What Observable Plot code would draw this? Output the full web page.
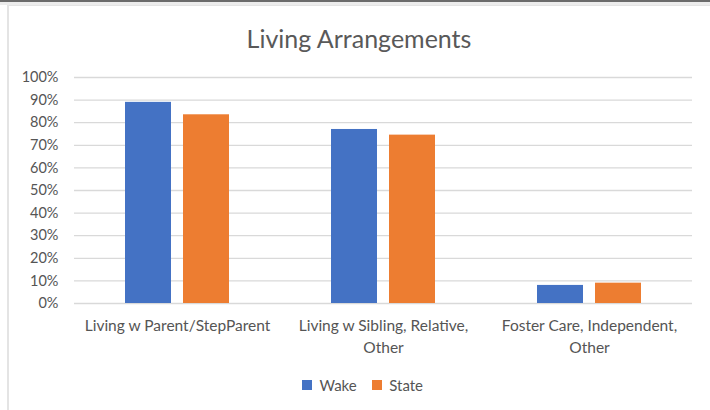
<!DOCTYPE html>
<html>
<head>
<meta charset="utf-8">
<script src="https://cdn.jsdelivr.net/npm/d3@7"></script>
<script src="https://cdn.jsdelivr.net/npm/@observablehq/plot@0.6"></script>
<style>
  html, body { margin: 0; padding: 0; background: #fff; }
  body { width: 710px; height: 410px; position: relative; overflow: hidden; font-family: Lato, "Open Sans", sans-serif; }
  #topbar { position: absolute; left: 0; top: 0; width: 710px; height: 2px; background: #6b6b6b; }
  #topbar2 { position: absolute; left: 0; top: 2px; width: 710px; height: 3px; background: #ececec; }
  #frame { position: absolute; left: 7px; top: 5px; width: 703px; height: 405px; border-left: 2px solid #e4e4e4; border-top: 1px solid #e4e4e4; box-sizing: border-box; }
  #title { position: absolute; left: 0; top: 23px; width: 718px; text-align: center; font-size: 25px; color: #595959; font-family: Lato, sans-serif; }
  #chart { position: absolute; left: 0; top: 60px; }
  #legend { position: absolute; left: 0; top: 368px; width: 710px; padding-left: 30px; box-sizing: border-box; display: flex; justify-content: center; }
</style>
</head>
<body>
<div id="topbar"></div>
<div id="topbar2"></div>
<div id="frame"></div>
<div id="title">Living Arrangements</div>
<div id="chart"></div>
<div id="legend"></div>
<script>
const categories = ["Living w Parent/StepParent", "Living w Sibling, Relative, Other", "Foster Care, Independent, Other"];
const tickLabels = ["Living w Parent/StepParent", "Living w Sibling, Relative,\nOther", "Foster Care, Independent,\nOther"];
const series = ["Wake", "State"];
const wakeValues = [89, 77, 8];
const stateValues = [83.5, 74.5, 9];
const yTicks = [0, 10, 20, 30, 40, 50, 60, 70, 80, 90, 100];
const colors = ["#4472C4", "#ED7D31"];

const data = [];
categories.forEach((c, i) => {
  data.push({category: c, series: "Wake", value: wakeValues[i]});
  data.push({category: c, series: "State", value: stateValues[i]});
});

const chart = Plot.plot({
  width: 710,
  height: 300,
  marginTop: 17,
  marginBottom: 57,
  marginLeft: 74,
  marginRight: 18,
  style: {fontFamily: "Lato, sans-serif", fontSize: "14px", color: "#595959", background: "transparent"},
  fx: {domain: categories, padding: 0, label: null},
  x: {domain: series, paddingInner: 0.207, paddingOuter: 0.879, axis: null},
  y: {domain: [0, 100], label: null},
  color: {domain: series, range: colors},
  marks: [
    Plot.ruleY(yTicks, {stroke: "#d9d9d9", strokeWidth: 1.3}),
    Plot.barY(data, {fx: "category", x: "series", y: "value", fill: "series"}),
    Plot.axisY({ticks: yTicks, tickSize: 0, tickPadding: 16, tickFormat: d => d + "%", label: null, fontSize: 14.5, fill: "#555555"}),
    Plot.axisFx({anchor: "bottom", tickSize: 0, tickPadding: 13, label: null, tickFormat: (d) => tickLabels[categories.indexOf(d)], fontSize: 15.5, lineHeight: 1.36, fill: "#555555"})
  ]
});
document.getElementById("chart").appendChild(chart);

const leg = Plot.legend({
  color: {domain: series, range: colors},
  swatchSize: 10,
  style: {fontFamily: "Lato, sans-serif", fontSize: "15px", color: "#555555"}
});
document.getElementById("legend").appendChild(leg);
</script>
</body>
</html>
